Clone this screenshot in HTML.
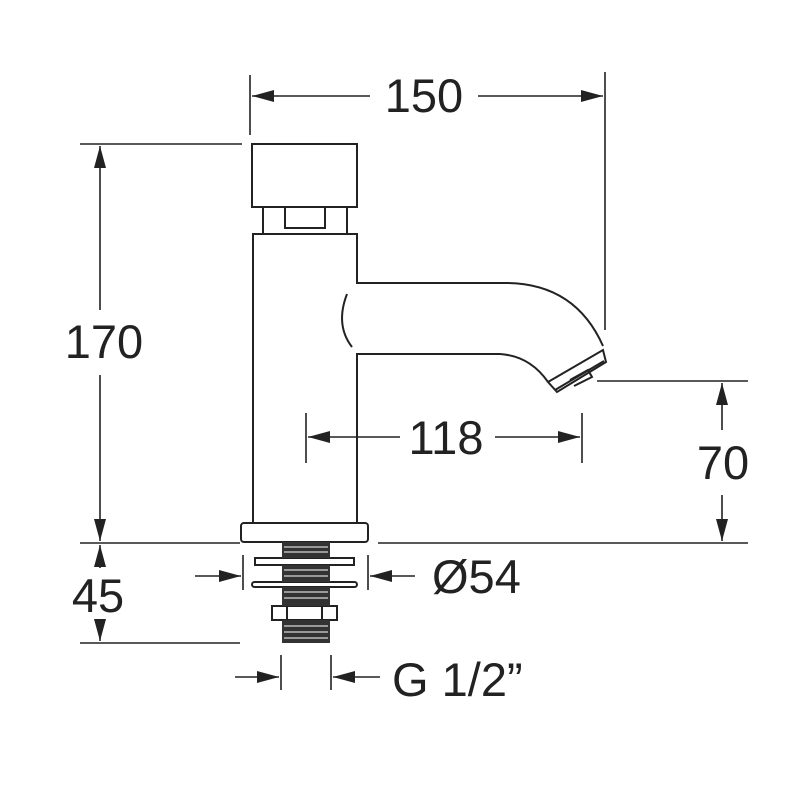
<!DOCTYPE html>
<html><head><style>body{margin:0;background:#fff}svg{display:block}text{font-family:"Liberation Sans",sans-serif;font-size:47px;fill:#222}</style></head><body>
<svg width="800" height="800" viewBox="0 0 800 800" xmlns="http://www.w3.org/2000/svg">
<defs><marker id="a" markerWidth="10" markerHeight="8" refX="10" refY="4" orient="auto" markerUnits="userSpaceOnUse"><path d="M0,0L10,4L0,8z" fill="#222"/></marker>
<marker id="b" markerWidth="22" markerHeight="12" refX="22" refY="6" orient="auto" markerUnits="userSpaceOnUse"><path d="M0,0L22,6L0,12z" fill="#222"/></marker></defs>
<g stroke="#222" stroke-width="2" fill="none">
<rect x="252" y="144" width="105" height="63"/>
<path d="M263 207V234M347 207V234"/>
<rect x="285" y="207" width="40" height="21"/>
<path d="M253 523V234H357V283H505Q575 283 603 346M357 523V354H500Q530 356 548 382"/>
<path d="M347 294Q335 325 352 347"/>
<path d="M548 382L603 350L606 362L557 392Z"/>
<path d="M555 390L604 361M570 380L588 370L592 377L574 386"/>
<rect x="241" y="523" width="127" height="19" rx="3"/>
<rect x="255" y="558" width="99" height="7"/>
<rect x="252" y="582" width="105" height="5" rx="2.5"/>
<rect x="272" y="606" width="65" height="14"/>
<path d="M287 606V620M322 606V620"/>
</g>
<g fill="#333">
<rect x="282" y="542" width="48" height="16"/><rect x="282" y="565" width="48" height="17"/><rect x="282" y="587" width="48" height="19"/><rect x="282" y="620" width="48" height="23"/>
</g>
<g stroke="#fff" stroke-width="1">
<path d="M284 547H328M284 552H328M284 570H328M284 576H328M284 592H328M284 598H328M284 626H328M284 632H328M284 638H328"/>
</g>
<g stroke="#222" stroke-width="1.6" fill="none">
<path d="M250 75V135M605 72V330M306 413V463M582 413V463"/>
<path d="M80 144H242M80 543H240M378 543H748M80 643H240M597 381H748"/>
<path d="M243 555V590M368 555V590M281 655V690M331 655V690"/>
<path d="M370 96H252" marker-end="url(#b)"/><path d="M478 96H603" marker-end="url(#b)"/>
<path d="M100 310V146" marker-end="url(#b)"/><path d="M100 375V541" marker-end="url(#b)"/>
<path d="M100 568V545" marker-end="url(#b)"/><path d="M100 619V641" marker-end="url(#b)"/>
<path d="M722 430V383" marker-end="url(#b)"/><path d="M722 495V541" marker-end="url(#b)"/>
<path d="M400 437H308" marker-end="url(#b)"/><path d="M495 437H580" marker-end="url(#b)"/>
<path d="M195 576H241" marker-end="url(#b)"/><path d="M415 576H370" marker-end="url(#b)"/>
<path d="M235 677H279" marker-end="url(#b)"/><path d="M380 677H333" marker-end="url(#b)"/>
</g>
<text x="424" y="112" text-anchor="middle">150</text>
<text x="104" y="358" text-anchor="middle">170</text>
<text x="98" y="612" text-anchor="middle">45</text>
<text x="723" y="479" text-anchor="middle">70</text>
<text x="446" y="454" text-anchor="middle">118</text>
<text x="432" y="593">Ø54</text>
<text x="392" y="696">G 1/2”</text>
</svg>
</body></html>
